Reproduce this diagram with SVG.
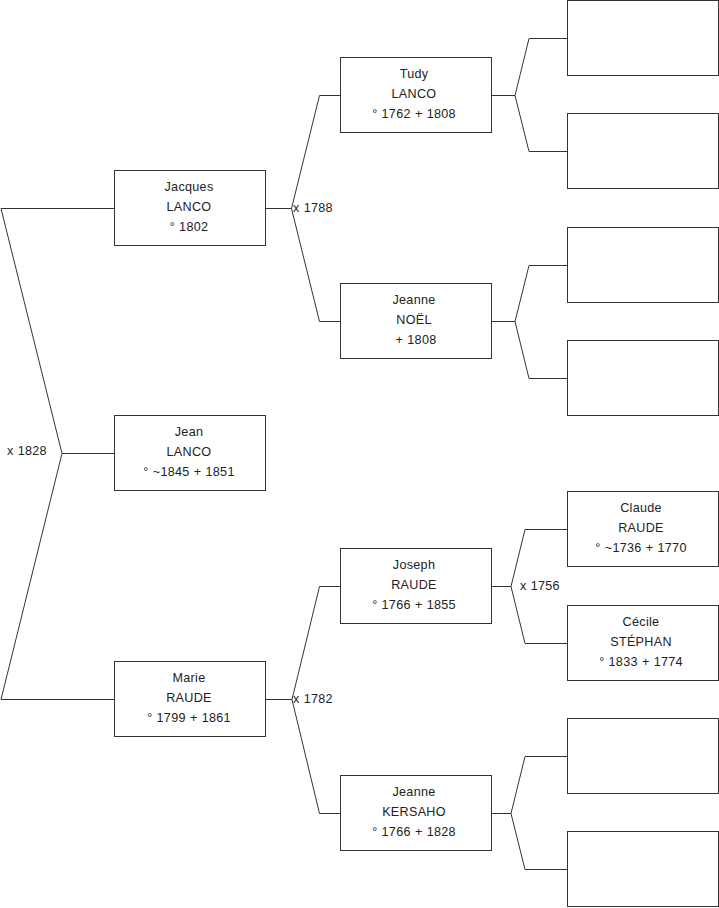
<svg xmlns="http://www.w3.org/2000/svg" width="719" height="908" viewBox="0 0 719 908">
<style>
.box{fill:#fff;stroke:#333;stroke-width:1}
.ln{fill:none;stroke:#333;stroke-width:1}
text{font-family:"Liberation Sans",Arial,sans-serif;font-size:12.6px;letter-spacing:0.3px;word-spacing:0.3px;fill:#222}
.c{text-anchor:middle}
</style>
<rect width="719" height="908" fill="#fff"/>
<g id="connectors">
<path class="ln" d="M1,208.5 H114.5 M1,208.5 L62,453.5 L1,699.5 H114.5 M62,453.5 H114.5"/>
<path class="ln" d="M265.5,208.5 H291.5 L319.5,95.5 H340.5 M291.5,208.5 L319.5,321.5 H340.5"/>
<path class="ln" d="M265.5,699.5 H292 L319.5,586.5 H340.5 M292,699.5 L319.5,813.5 H340.5"/>
<path class="ln" d="M491.5,95.5 H515 L529,38.5 H567.5 M515,95.5 L529,151.5 H567.5"/>
<path class="ln" d="M491.5,321.5 H515 L529,265.5 H567.5 M515,321.5 L529,378.5 H567.5"/>
<path class="ln" d="M491.5,586.5 H511 L525,529.5 H567.5 M511,586.5 L525,643.5 H567.5"/>
<path class="ln" d="M491.5,813.5 H511 L525,756.5 H567.5 M511,813.5 L525,869.5 H567.5"/>
<text x="7" y="455">x 1828</text>
<text x="293" y="212">x 1788</text>
<text x="293" y="703">x 1782</text>
<text x="520" y="590">x 1756</text>
</g>
<g id="jacques"><rect class="box" x="114.5" y="170.5" width="151" height="75"/>
<text class="c" x="189" y="191">Jacques</text><text class="c" x="189" y="211">LANCO</text><text class="c" x="189" y="231">° 1802</text></g>
<g id="jean"><rect class="box" x="114.5" y="415.5" width="151" height="75"/>
<text class="c" x="189" y="436">Jean</text><text class="c" x="189" y="456">LANCO</text><text class="c" x="189" y="476">° ~1845 + 1851</text></g>
<g id="marie"><rect class="box" x="114.5" y="661.5" width="151" height="75"/>
<text class="c" x="189" y="682">Marie</text><text class="c" x="189" y="702">RAUDE</text><text class="c" x="189" y="722">° 1799 + 1861</text></g>
<g id="tudy"><rect class="box" x="340.5" y="57.5" width="151" height="75"/>
<text class="c" x="414" y="78">Tudy</text><text class="c" x="414" y="98">LANCO</text><text class="c" x="414" y="118">° 1762 + 1808</text></g>
<g id="jeanne-noel"><rect class="box" x="340.5" y="283.5" width="151" height="75"/>
<text class="c" x="414" y="304">Jeanne</text><text class="c" x="414" y="324">NOËL</text><text class="c" x="414" y="344">&#160;+ 1808</text></g>
<g id="joseph"><rect class="box" x="340.5" y="548.5" width="151" height="75"/>
<text class="c" x="414" y="569">Joseph</text><text class="c" x="414" y="589">RAUDE</text><text class="c" x="414" y="609">° 1766 + 1855</text></g>
<g id="jeanne-kersaho"><rect class="box" x="340.5" y="775.5" width="151" height="75"/>
<text class="c" x="414" y="796">Jeanne</text><text class="c" x="414" y="816">KERSAHO</text><text class="c" x="414" y="836">° 1766 + 1828</text></g>
<g id="empty1"><rect class="box" x="567.5" y="0.5" width="151" height="75"/></g>
<g id="empty2"><rect class="box" x="567.5" y="113.5" width="151" height="75"/></g>
<g id="empty3"><rect class="box" x="567.5" y="227.5" width="151" height="75"/></g>
<g id="empty4"><rect class="box" x="567.5" y="340.5" width="151" height="75"/></g>
<g id="claude"><rect class="box" x="567.5" y="491.5" width="151" height="75"/>
<text class="c" x="641" y="512">Claude</text><text class="c" x="641" y="532">RAUDE</text><text class="c" x="641" y="552">° ~1736 + 1770</text></g>
<g id="cecile"><rect class="box" x="567.5" y="605.5" width="151" height="75"/>
<text class="c" x="641" y="626">Cécile</text><text class="c" x="641" y="646">STÉPHAN</text><text class="c" x="641" y="666">° 1833 + 1774</text></g>
<g id="empty5"><rect class="box" x="567.5" y="718.5" width="151" height="75"/></g>
<g id="empty6"><rect class="box" x="567.5" y="831.5" width="151" height="75"/></g>
</svg>
